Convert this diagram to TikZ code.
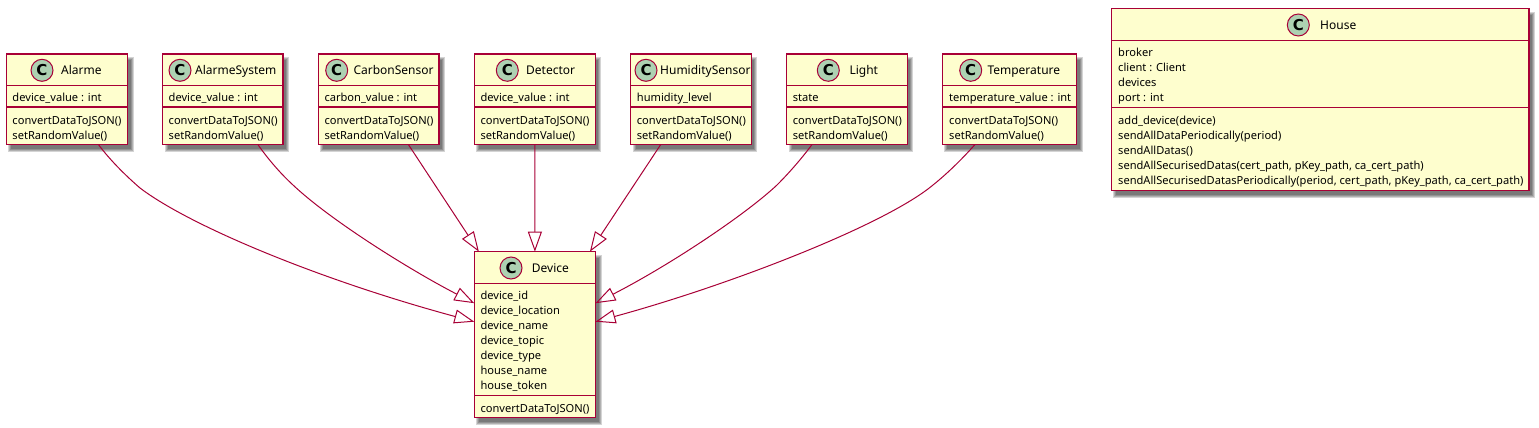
\documentclass[tikz,border=0pt]{standalone}
\usepackage{fontspec}
\setmainfont{Noto Sans}
\newfontfamily\iconfont{DejaVu Sans}
\usetikzlibrary{arrows.meta}

\definecolor{umlline}{HTML}{A80036}
\definecolor{umlfill}{HTML}{FEFECE}
\definecolor{umlicon}{HTML}{ADD1B2}

\tikzset{
    classbox/.style={draw=umlline,line width=1.5pt,fill=umlfill,rectangle,anchor=north west,inner sep=0pt,outer sep=0pt},
    classicon/.style={draw=umlline,line width=1pt,fill=umlicon,circle,minimum size=22pt,inner sep=0pt,font=\fontsize{15}{15}\selectfont\iconfont\bfseries},
    classtitle/.style={anchor=base west,inner sep=0pt,font=\fontsize{12}{15}\selectfont},
    members/.style={anchor=base west,inner sep=0pt,align=left,font=\fontsize{11.1}{15}\selectfont},
    divider/.style={draw=umlline,line width=1.1pt},
    inherit/.style={draw=umlline,line width=1pt,-{Triangle[open,length=20pt,width=14pt]}}
}

% name, left, top, width, height, first divider, second divider, icon x, title x
\newcommand{\umlclass}[9]{
    \foreach \k in {0,1,2,3}{
        \fill[black,opacity=0.17] ({#2+4-\k+1},{#3+5-\k+1}) rectangle ({#2+#4+4+\k-1},{#3+#5+5+\k-1});
    }
    \node[classbox,minimum width=#4pt,minimum height=#5pt] (#1) at (#2,#3) {};
    \draw[divider] (#2,#6) -- ({#2+#4},#6);
    \draw[divider] (#2,#7) -- ({#2+#4},#7);
    \node[classicon] (#1Icon) at (#8,{#3+16.3}) {C};
    \node[classtitle] (#1Title) at (#9,{#3+20.5}) {#1};
}

\begin{document}
\begin{tikzpicture}[x=1pt,y=-1pt]
    \useasboundingbox (0,0) rectangle (1539,428);

    %%% CLASSES %%%
    \umlclass{Alarme}{6.3}{54}{121.2}{90.5}{85.7}{107}{42}{61}
    \umlclass{AlarmeSystem}{162.5}{54}{120.7}{90.5}{85.7}{107}{180}{195}
    \umlclass{CarbonSensor}{318.3}{54}{120.7}{90.5}{85.7}{107}{336.7}{353.3}
    \umlclass{Detector}{474.3}{54}{121}{90.5}{85.7}{107}{507.3}{526}
    \umlclass{HumiditySensor}{630.7}{54}{120.7}{90.5}{85.7}{107}{646}{660}
    \umlclass{Light}{786.7}{54}{120.7}{90.5}{85.7}{107}{828.3}{849.3}
    \umlclass{Temperature}{942.3}{54}{134.2}{90.5}{85.7}{107}{970.7}{987.3}
    \umlclass{Device}{474.3}{251.7}{121.2}{166}{283.3}{395.3}{511}{531.7}
    \umlclass{House}{1111.3}{8.7}{417.7}{182}{40.7}{107.3}{1298.3}{1320}

    %%% MEMBERS %%%
    \node[members] (AlarmeAttrs) at (12.3,101.7) {device\_value : int};
    \node[members] (AlarmeOps) at (12.3,139.3) {convertDataToJSON()\\setRandomValue()};
    \node[members] (AlarmeSystemAttrs) at (168.5,101.7) {device\_value : int};
    \node[members] (AlarmeSystemOps) at (168.5,139.3) {convertDataToJSON()\\setRandomValue()};
    \node[members] (CarbonSensorAttrs) at (324.3,101.7) {carbon\_value : int};
    \node[members] (CarbonSensorOps) at (324.3,139.3) {convertDataToJSON()\\setRandomValue()};
    \node[members] (DetectorAttrs) at (480.3,101.7) {device\_value : int};
    \node[members] (DetectorOps) at (480.3,139.3) {convertDataToJSON()\\setRandomValue()};
    \node[members] (HumiditySensorAttrs) at (636.7,101.7) {humidity\_level};
    \node[members] (HumiditySensorOps) at (636.7,139.3) {convertDataToJSON()\\setRandomValue()};
    \node[members] (LightAttrs) at (792.7,101.7) {state};
    \node[members] (LightOps) at (792.7,139.3) {convertDataToJSON()\\setRandomValue()};
    \node[members] (TemperatureAttrs) at (949,101.7) {temperature\_value : int};
    \node[members] (TemperatureOps) at (949,139.3) {convertDataToJSON()\\setRandomValue()};
    \node[members] (DeviceAttrs) at (480.3,389) {device\_id\\device\_location\\device\_name\\device\_topic\\device\_type\\house\_name\\house\_token};
    \node[members] (DeviceOps) at (480.3,412.3) {convertDataToJSON()};
    \node[members] (HouseAttrs) at (1118,101) {broker\\client : Client\\devices\\port : int};
    \node[members] (HouseOps) at (1118,184) {add\_device(device)\\sendAllDataPeriodically(period)\\sendAllDatas()\\sendAllSecurisedDatas(cert\_path, pKey\_path, ca\_cert\_path)\\sendAllSecurisedDatasPeriodically(period, cert\_path, pKey\_path, ca\_cert\_path)};

    %%% INHERITANCE %%%
    \draw[inherit] ([xshift=31.5pt]Alarme.south) .. controls (110,160) and (125,175) .. (140,188)
        .. controls (190,226) and (320,280) .. ([yshift=13pt]Device.west);
    \draw[inherit] ([xshift=35pt]AlarmeSystem.south) .. controls (268,159) and (280,173) .. (293,185)
        .. controls (330,220) and (410,270) .. ([yshift=31.5pt]Device.west);
    \draw[inherit] ([xshift=29.7pt]CarbonSensor.south) -- ([xshift=-56pt]Device.north);
    \draw[inherit] (Detector.south) -- (Device.north);
    \draw[inherit] ([xshift=-30.3pt]HumiditySensor.south) -- ([xshift=55pt]Device.north);
    \draw[inherit] ([xshift=-35pt]Light.south) .. controls (802,158) and (790,172) .. (777,185)
        .. controls (745,215) and (670,265) .. ([yshift=31.5pt]Device.east);
    \draw[inherit] ([xshift=-34.4pt]Temperature.south) .. controls (963,158) and (948,173) .. (933,185)
        .. controls (885,225) and (730,285) .. ([yshift=13pt]Device.east);
\end{tikzpicture}
\end{document}
